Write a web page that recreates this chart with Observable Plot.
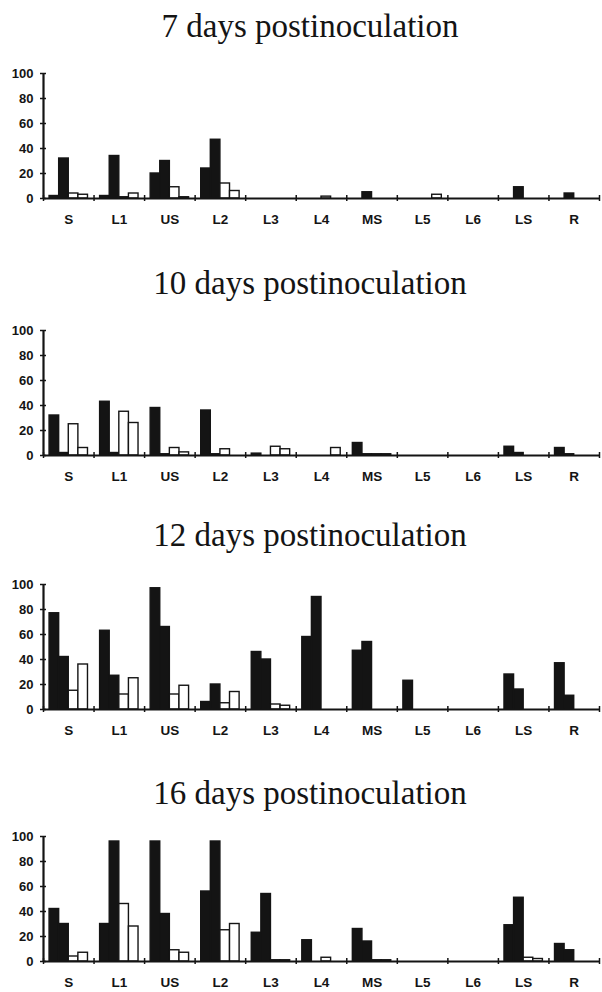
<!DOCTYPE html>
<html><head><meta charset="utf-8">
<script src="https://cdn.jsdelivr.net/npm/d3@7"></script>
<script src="https://cdn.jsdelivr.net/npm/@observablehq/plot@0.6"></script>
<style>
body{margin:0;background:#fff;width:602px;height:992px;position:relative;overflow:hidden}
.title{position:absolute;left:0;width:620px;text-align:center;font-family:"Liberation Serif","Times New Roman",serif;font-size:33px;color:#141414;line-height:1;white-space:nowrap}
.panel{position:absolute;left:0}
</style></head><body>
<script>
const categories = ["S","L1","US","L2","L3","L4","MS","L5","L6","LS","R"];
const yTicks = [0,20,40,60,80,100];
const titles = ["7 days postinoculation","10 days postinoculation","12 days postinoculation","16 days postinoculation"];

// 7 days
const d7_black1 = [2, 2, 20, 24, 0, 0, 0, 0, 0, 0, 0];
const d7_black2 = [32, 34, 30, 47, 0, 0, 5, 0, 0, 9, 4];
const d7_white1 = [4, 1, 9, 12, 0, 1.5, 0, 0, 0, 0, 0];
const d7_white2 = [3, 4, 1, 6, 0, 0, 0, 3, 0, 0, 0];
// 10 days
const d10_black1 = [32, 43, 38, 36, 1.5, 0, 10, 0, 0, 7, 6];
const d10_black2 = [2, 2, 1, 1, 0, 0, 1, 0, 0, 2, 1];
const d10_white1 = [25, 35, 6, 5, 7, 0, 1, 0, 0, 0, 0];
const d10_white2 = [6, 26, 2.5, 0, 5, 6, 1, 0, 0, 0, 0];
// 12 days
const d12_black1 = [77, 63, 97, 6, 46, 58, 47, 23, 0, 28, 37];
const d12_black2 = [42, 27, 66, 20, 40, 90, 54, 0, 0, 16, 11];
const d12_white1 = [15, 12, 12, 5, 4, 0, 0, 0, 0, 0, 0];
const d12_white2 = [36, 25, 19, 14, 3, 0, 0, 0, 0, 0, 0];
// 16 days
const d16_black1 = [42, 30, 96, 56, 23, 17, 26, 0, 0, 29, 14];
const d16_black2 = [30, 96, 38, 96, 54, 0, 16, 0, 0, 51, 9];
const d16_white1 = [4, 46, 9, 25, 1, 3, 1, 0, 0, 3, 0];
const d16_white2 = [7, 28, 7, 30, 1, 0, 1, 0, 0, 2, 0];

const panelSeries = [
  [d7_black1, d7_black2, d7_white1, d7_white2],
  [d10_black1, d10_black2, d10_white1, d10_white2],
  [d12_black1, d12_black2, d12_white1, d12_white2],
  [d16_black1, d16_black2, d16_white1, d16_white2]
];
const plotTops = [63, 320, 574, 826];
const titleTops = [10, 267, 519, 777];

const bw = 0.19, pad = 0.12;
const boundaries = d3.range(0, categories.length + 1);

function makePanel(series) {
  const rows = [];
  series.forEach((vals, j) => vals.forEach((v, i) => rows.push({cat: categories[i], i, j, v})));
  return Plot.plot({
    width: 602, height: 165,
    marginLeft: 43, marginRight: 3, marginTop: 10, marginBottom: 30,
    style: {fontFamily: "'Liberation Sans', Arial, sans-serif", color: "#141414", background: "transparent"},
    x: {domain: [0, categories.length], axis: null},
    y: {domain: [0, 100], axis: null},
    marks: [
      Plot.rectY(rows.filter(d => d.v > 0), {
        x1: d => d.i + pad + d.j * bw,
        x2: d => d.i + pad + (d.j + 1) * bw,
        y1: 0, y2: "v",
        fill: d => d.j < 2 ? "#141414" : "#fff",
        stroke: "#141414", strokeWidth: 1.4
      }),
      Plot.ruleY([0], {stroke: "#141414", strokeWidth: 2.2}),
      Plot.ruleX([0], {y1: 0, y2: 100, stroke: "#141414", strokeWidth: 2.2}),
      Plot.axisY(yTicks, {tickSize: 6, dx: 3, tickPadding: 7, fontWeight: "bold", fontSize: 13, strokeWidth: 1.5, label: null}),
      Plot.axisX(boundaries, {tickSize: 6, dy: -3, tickFormat: () => "", strokeWidth: 1.5, label: null}),
      Plot.text(categories, {x: (d, i) => i + 0.5, y: 0, text: d => d, dy: 21, fontWeight: "bold", fontSize: 13.5, fill: "#141414", letterSpacing: "0.5px"})
    ]
  });
}

panelSeries.forEach((series, k) => {
  const t = document.createElement("div");
  t.className = "title";
  t.style.top = titleTops[k] + "px";
  t.textContent = titles[k];
  document.body.appendChild(t);
  const p = document.createElement("div");
  p.className = "panel";
  p.style.top = plotTops[k] + "px";
  p.appendChild(makePanel(series));
  document.body.appendChild(p);
});
</script>
</body></html>
